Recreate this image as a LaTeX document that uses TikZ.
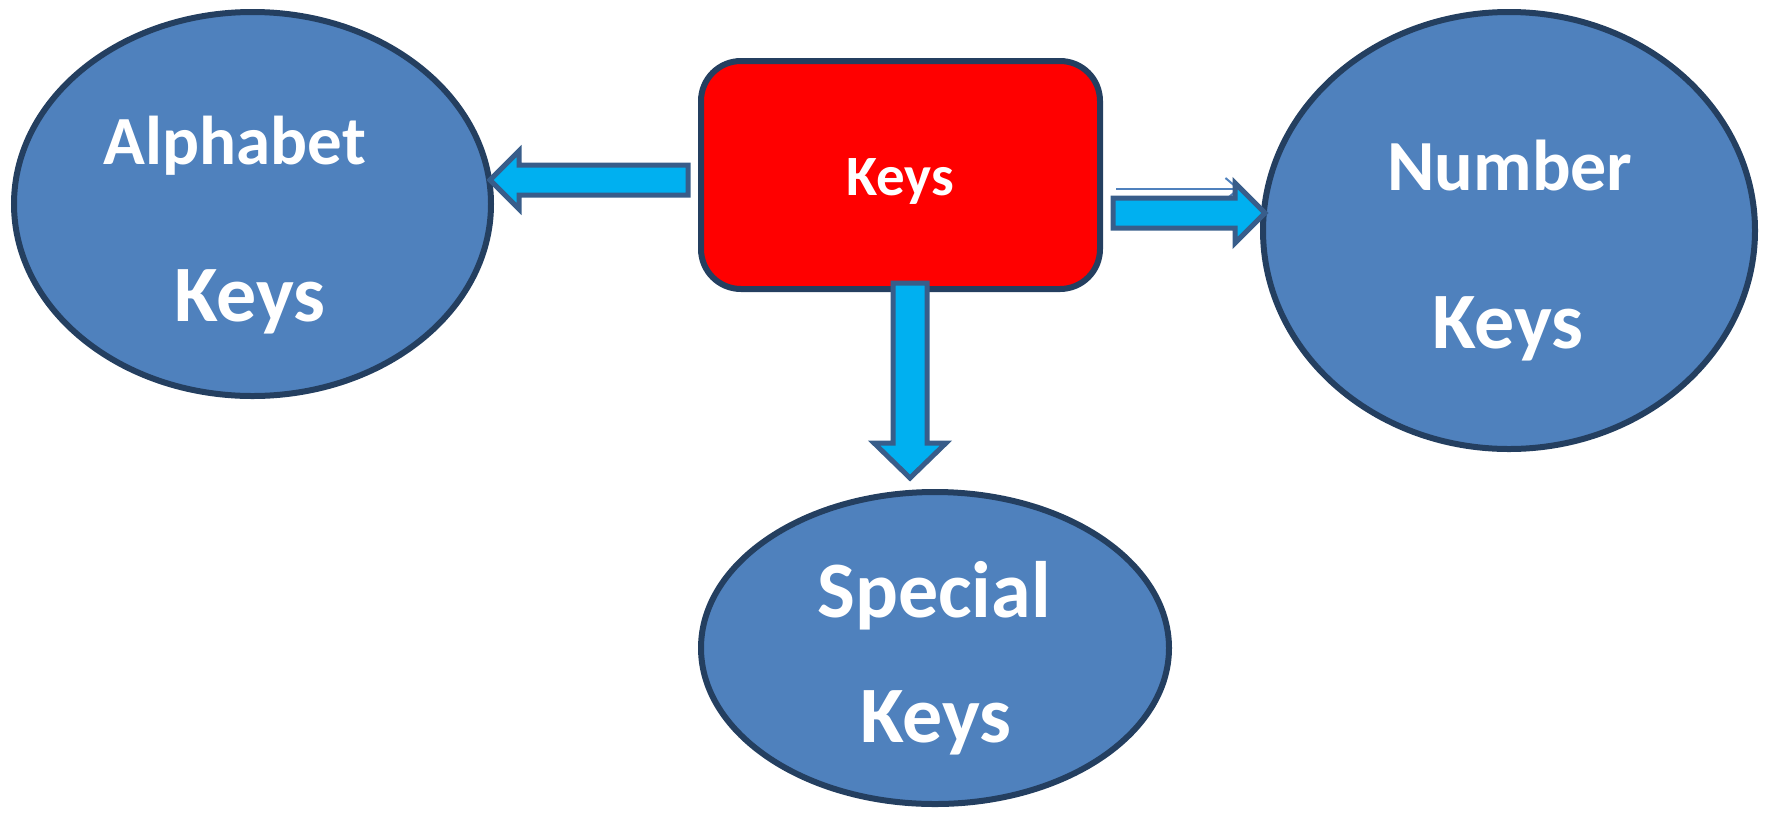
\documentclass[tikz,border=0pt]{standalone}
\usepackage{fontspec}
\setmainfont{Carlito}
\usetikzlibrary{shapes.geometric,arrows.meta}

\definecolor{keyblue}{HTML}{4F81BD}
\definecolor{keynavy}{HTML}{243F60}
\definecolor{arrowfill}{HTML}{00B0F0}
\definecolor{arrowline}{HTML}{385D8A}

\tikzset{
  keyellipse/.style={ellipse,draw=keynavy,fill=keyblue,line width=6pt,inner sep=0pt},
  keybox/.style={rectangle,draw=keynavy,fill=red,line width=6pt,rounded corners=40pt,inner sep=0pt},
  keytext/.style={text=white,font=\bfseries\fontsize{72}{80}\selectfont,anchor=base,inner sep=0pt},
  bigtext/.style={keytext,font=\bfseries\fontsize{80}{80}\selectfont},
  blockarrow/.style={draw=arrowline,fill=arrowfill,line width=5pt,line join=miter}
}

\begin{document}
\begin{tikzpicture}[x=1pt,y=-1pt]
\useasboundingbox (0,0) rectangle (1771,812);

% the four shapes
\node[keybox,minimum width=399pt,minimum height=228pt] (keys) at (900.5,175) {};
\node[keyellipse,minimum width=477pt,minimum height=384pt] (alpha) at (252.5,204) {};
\node[keyellipse,minimum width=492pt,minimum height=437pt] (number) at (1509,230.5) {};
\node[keyellipse,minimum width=468pt,minimum height=312pt] (special) at (935,648) {};

% labels
\node[keytext,font=\bfseries\fontsize{57}{60}\selectfont] (keysT) at (900,195) {Keys};
\node[keytext,font=\bfseries\fontsize{69}{80}\selectfont] (alphaT) at (235,164) {Alphabet};
\node[bigtext] (alphaK) at (250,321) {Keys};
\node[keytext] (numberT) at (1510,190) {Number};
\node[bigtext] (numberK) at (1508,348) {Keys};
\node[bigtext] (specialT) at (934,617) {Special};
\node[bigtext] (specialK) at (936,742) {Keys};

% thin arrow behind the right block arrow
\coordinate (thinA) at (1116,189);
\coordinate (thinB) at (1240,189);
\draw[keyblue,line width=2pt,-{Straight Barb[length=13pt,width=22pt]}] (thinA) -- (thinB);

% block arrows
\draw[blockarrow] (688,165) -- (519,165) -- (519,151) -- (490,180) -- (519,209) -- (519,195) -- (688,195) -- cycle;
\draw[blockarrow] (1113,198) -- (1235,198) -- (1235,183) -- (1265,213) -- (1235,243) -- (1235,228) -- (1113,228) -- cycle;
\draw[blockarrow] (893,283) -- (893,443) -- (874,443) -- (910,478) -- (946,443) -- (927,443) -- (927,283) -- cycle;
\end{tikzpicture}
\end{document}
